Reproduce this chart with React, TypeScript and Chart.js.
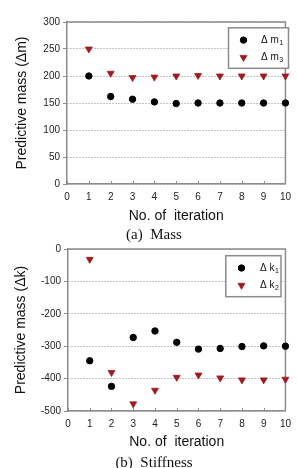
import React, { useEffect, useRef } from 'react';
import { Chart, registerables } from 'chart.js';
import { drawPoint } from 'chart.js/helpers';

Chart.register(...registerables);

// ---- data ----
const iterations = [1, 2, 3, 4, 5, 6, 7, 8, 9, 10];
const xTickValues = [0, 1, 2, 3, 4, 5, 6, 7, 8, 9, 10];

const massDm1 = [200, 162, 157, 152, 149, 150, 150, 150, 150, 150];
const massDm3 = [250, 205, 197, 198, 200, 201, 200, 200, 200, 200];
const massYTicks = [0, 50, 100, 150, 200, 250, 300];
const massNames = ['Δ m', 'Δ m'];
const massSubs = ['1', '3'];

const stiffDk1 = [-345, -424, -273, -253, -288, -309, -307, -301, -299, -300];
const stiffDk2 = [-32, -381, -478, -436, -396, -389, -398, -404, -404, -402];
const stiffYTicks = [-500, -400, -300, -200, -100, 0];
const stiffNames = ['Δ k', 'Δ k'];
const stiffSubs = ['1', '2'];

const xTitle = 'No. of  iteration';
const massYTitle = 'Predictive mass (Δm)';
const stiffYTitle = 'Predictive mass (Δk)';
const captionA = '(a)  Mass';
const captionB = '(b)  Stiffness';

const FONT = '"Liberation Sans", Arial, sans-serif';
const AXIS_GREY = '#8c8c8c';
const RED = '#9e1b1f';

const framePlugin = {
  id: 'frame',
  beforeDatasetsDraw(chart: any) {
    const { ctx, chartArea } = chart;
    const { left, right, top, bottom } = chartArea;
    ctx.save();
    ctx.strokeStyle = AXIS_GREY;
    ctx.lineWidth = 1.5;
    ctx.beginPath();
    ctx.moveTo(left, top);
    ctx.lineTo(right, top);
    ctx.lineTo(right, bottom);
    ctx.stroke();
    const xs = chart.scales.x;
    ctx.lineWidth = 1;
    ctx.beginPath();
    xs.ticks.forEach((t: any) => {
      const px = Math.round(xs.getPixelForValue(t.value)) + 0.5;
      ctx.moveTo(px, bottom);
      ctx.lineTo(px, bottom - 3);
    });
    ctx.stroke();
    ctx.restore();
  },
};

const boxLegendPlugin = {
  id: 'boxLegend',
  afterDraw(chart: any, _args: any, opts: any) {
    const { ctx } = chart;
    const { box, markerX, textX, rowOffsets, subs } = opts;
    ctx.save();
    ctx.strokeStyle = AXIS_GREY;
    ctx.lineWidth = 1.5;
    ctx.fillStyle = '#ffffff';
    ctx.fillRect(box.left, box.top, box.width, box.height);
    ctx.strokeRect(box.left, box.top, box.width, box.height);
    chart.data.datasets.forEach((ds: any, i: number) => {
      const y = box.top + rowOffsets[i];
      ctx.fillStyle = ds.backgroundColor;
      ctx.strokeStyle = ds.borderColor;
      ctx.lineWidth = ds.borderWidth;
      drawPoint(ctx, { pointStyle: ds.pointStyle, rotation: ds.pointRotation || 0, radius: ds.pointRadius, borderWidth: ds.borderWidth }, markerX, y);
      ctx.fillStyle = '#111';
      ctx.textBaseline = 'middle';
      ctx.textAlign = 'left';
      ctx.font = `10px ${FONT}`;
      ctx.fillText(ds.label, textX, y);
      const w = ctx.measureText(ds.label).width;
      ctx.font = `7px ${FONT}`;
      ctx.fillText(subs[i], textX + w + 0.5, y + 3);
    });
    ctx.restore();
  },
};

function makeConfig(p: any) {
  const circleSet = {
    label: p.names[0],
    data: iterations.map((x, i) => ({ x, y: p.s1[i] })),
    pointStyle: 'circle',
    pointRadius: 3.2,
    pointRotation: 0,
    backgroundColor: '#000000',
    borderColor: '#000000',
    borderWidth: 1,
    showLine: false,
    clip: false,
  };
  const triSet = {
    label: p.names[1],
    data: iterations.map((x, i) => ({ x, y: p.s2[i] })),
    pointStyle: 'triangle',
    pointRadius: 4,
    pointRotation: 180,
    backgroundColor: RED,
    borderColor: RED,
    borderWidth: 0.8,
    showLine: false,
    clip: false,
  };
  return {
    type: 'scatter',
    data: { datasets: [circleSet, triSet] },
    plugins: [framePlugin, boxLegendPlugin],
    options: {
      responsive: false,
      animation: false,
      devicePixelRatio: 1,
      layout: { padding: { left: 0, top: p.padTop, right: p.padRight, bottom: 0 } },
      plugins: {
        legend: { display: false },
        tooltip: { enabled: false },
        boxLegend: p.legend,
      },
      scales: {
        x: {
          type: 'linear',
          min: 0,
          max: 10,
          afterBuildTicks: (s: any) => {
            s.ticks = xTickValues.map((v) => ({ value: v }));
          },
          afterFit: (s: any) => {
            s.height = p.xAxisHeight;
          },
          grid: { display: true, drawOnChartArea: false, drawTicks: false },
          border: { display: true, color: AXIS_GREY, width: 1.5 },
          ticks: { padding: 7, color: '#222', font: { family: FONT, size: 10 }, maxRotation: 0, autoSkip: false },
          title: {
            display: true,
            text: xTitle,
            color: '#111',
            font: { family: FONT, size: 14 },
            padding: { top: 0, bottom: 3 },
          },
        },
        y: {
          type: 'linear',
          min: p.yMin,
          max: p.yMax,
          afterBuildTicks: (s: any) => {
            s.ticks = p.yTicks.map((v: number) => ({ value: v }));
          },
          afterFit: (s: any) => {
            s.width = p.yAxisWidth;
          },
          grid: {
            display: true,
            color: '#8a8a8a',
            lineWidth: 1,
            drawTicks: true,
            tickLength: 4,
            tickColor: AXIS_GREY,
            tickBorderDash: [],
          },
          border: { display: true, color: AXIS_GREY, width: 1.5, dash: [1, 2] },
          ticks: { padding: 3, color: '#222', font: { family: FONT, size: 10 }, autoSkip: false },
          title: {
            display: true,
            text: p.yTitle,
            color: '#111',
            font: { family: FONT, size: 14 },
            padding: { top: p.yTitlePad, bottom: 0 },
          },
        },
      },
    },
  };
}

function ChartCanvas({ config, top, width, height }: any) {
  const ref = useRef<HTMLCanvasElement | null>(null);
  useEffect(() => {
    if (!ref.current) return;
    const chart = new Chart(ref.current, config);
    return () => chart.destroy();
  }, [config]);
  return (
    <canvas
      ref={ref}
      width={width}
      height={height}
      style={{ position: 'absolute', left: 0, top, width, height, display: 'block' }}
    />
  );
}

const massConfig = makeConfig({
  s1: massDm1,
  s2: massDm3,
  names: massNames,
  yMin: 0,
  yMax: 300,
  yTicks: massYTicks,
  yTitle: massYTitle,
  padTop: 22,
  padRight: 6,
  xAxisHeight: 44,
  yAxisWidth: 67,
  yTitlePad: 13.6,
  legend: {
    box: { left: 228.5, top: 27.8, width: 60, height: 40.5 },
    markerX: 243.5,
    textX: 261,
    rowOffsets: [12.3, 29.6],
    subs: massSubs,
  },
});

const stiffConfig = makeConfig({
  s1: stiffDk1,
  s2: stiffDk2,
  names: stiffNames,
  yMin: -500,
  yMax: 0,
  yTicks: stiffYTicks,
  yTitle: stiffYTitle,
  padTop: 15,
  padRight: 5,
  xAxisHeight: 43,
  yAxisWidth: 68,
  yTitlePad: 12.6,
  legend: {
    box: { left: 225.8, top: 21.7, width: 55.2, height: 41 },
    markerX: 241.5,
    textX: 260,
    rowOffsets: [12.3, 29.6],
    subs: stiffSubs,
  },
});

const captionStyle: React.CSSProperties = {
  position: 'absolute',
  left: 0,
  width: 308,
  textAlign: 'center',
  font: '15px "Liberation Serif", "Times New Roman", serif',
  lineHeight: '18px',
  whiteSpace: 'pre',
  color: '#111',
};

export default function App() {
  return (
    <div style={{ position: 'absolute', left: 0, top: 0, width: 298, height: 468, background: '#fff', overflow: 'hidden' }}>
      <ChartCanvas config={massConfig} top={0} width={298} height={228} />
      <ChartCanvas config={stiffConfig} top={234} width={298} height={220} />
      <div style={{ ...captionStyle, top: 225 }}>{captionA}</div>
      <div style={{ ...captionStyle, top: 453 }}>{captionB}</div>
    </div>
  );
}
